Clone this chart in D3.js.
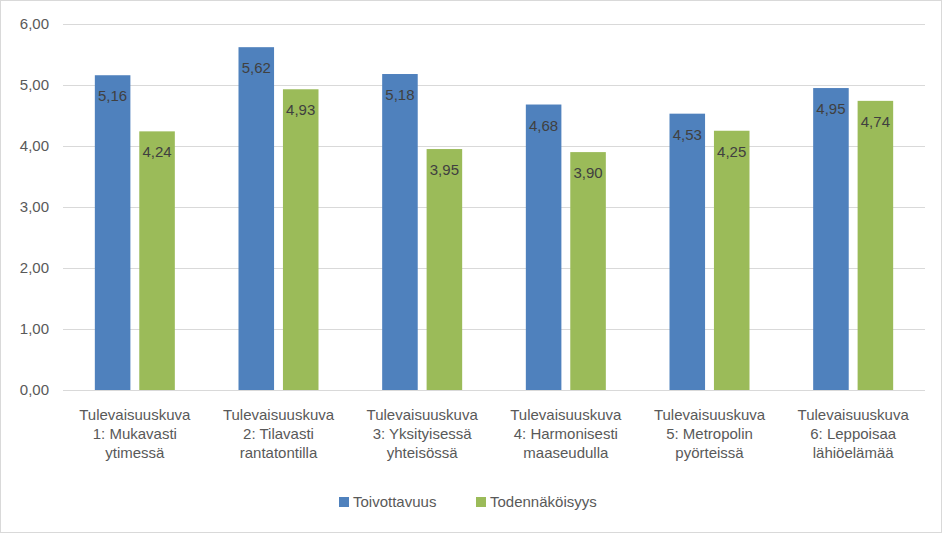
<!DOCTYPE html>
<html><head><meta charset="utf-8">
<script src="https://cdn.jsdelivr.net/npm/d3@7"></script>
<style>body{margin:0;background:#fff}text{font-family:"Liberation Sans",Arial,sans-serif}</style>
</head><body>
<script>
var categories = [["Tulevaisuuskuva","1: Mukavasti","ytimessä"],["Tulevaisuuskuva","2: Tilavasti","rantatontilla"],["Tulevaisuuskuva","3: Yksityisessä","yhteisössä"],["Tulevaisuuskuva","4: Harmonisesti","maaseudulla"],["Tulevaisuuskuva","5: Metropolin","pyörteissä"],["Tulevaisuuskuva","6: Leppoisaa","lähiöelämää"]];
var toivottavuus = [5.16,5.62,5.18,4.68,4.53,4.95];
var todennakoisyys = [4.24,4.93,3.95,3.90,4.25,4.74];
var seriesNames = ["Toivottavuus","Todennäköisyys"];
var colors = ["#4f81bd","#9bbb59"];
var yTicks = [0,1,2,3,4,5,6];

var W = 942, H = 533, plotL = 63, plotR = 925, plotT = 24, plotB = 390;
var svg = d3.select("body").append("svg").attr("width",W).attr("height",H);
svg.append("rect").attr("x",0.5).attr("y",0.5).attr("width",W-1).attr("height",H-1).attr("fill","#fff").attr("stroke","#d9d9d9");

var x = d3.scaleBand().domain(d3.range(categories.length)).range([plotL,plotR]);
var x1 = d3.scaleBand().domain([0,1]).range([0,80]).paddingInner(0.2);
var y = d3.scaleLinear().domain([0,6]).range([plotB,plotT]);
var fmt = function(v){ return d3.format(".2f")(v).replace(".",","); };

svg.selectAll(".grid").data(yTicks).enter().append("line")
  .attr("x1",plotL).attr("x2",plotR).attr("y1",d=>y(d)+0.5).attr("y2",d=>y(d)+0.5)
  .attr("stroke","#d9d9d9");
svg.selectAll(".yl").data(yTicks).enter().append("text")
  .attr("x",plotL-14).attr("y",d=>y(d)+5).attr("text-anchor","end")
  .attr("font-size",15).attr("fill","#595959").text(d=>fmt(d));

var series = [toivottavuus,todennakoisyys];
series.forEach(function(vals,s){
  var g = svg.append("g");
  g.selectAll("rect").data(vals).enter().append("rect")
    .attr("x",(d,i)=>x(i)+x.bandwidth()/2-40+x1(s)).attr("width",x1.bandwidth())
    .attr("y",d=>y(d)).attr("height",d=>plotB-y(d)).attr("fill",colors[s]);
  g.selectAll("text").data(vals).enter().append("text")
    .attr("x",(d,i)=>x(i)+x.bandwidth()/2-40+x1(s)+x1.bandwidth()/2)
    .attr("y",d=>y(d)+26).attr("text-anchor","middle").attr("font-size",15)
    .attr("fill","#404040").text(d=>fmt(d));
});

categories.forEach(function(lines,i){
  var t = svg.append("text").attr("x",x(i)+x.bandwidth()/2).attr("y",420)
    .attr("text-anchor","middle").attr("font-size",15).attr("fill","#595959");
  lines.forEach(function(l,k){ t.append("tspan").attr("x",x(i)+x.bandwidth()/2).attr("dy",k?19:0).text(l); });
});

var lx = [339,476];
seriesNames.forEach(function(n,s){
  svg.append("rect").attr("x",lx[s]).attr("y",497).attr("width",10).attr("height",10).attr("fill",colors[s]);
  svg.append("text").attr("x",lx[s]+14).attr("y",507).attr("font-size",15).attr("fill","#595959").text(n);
});
</script>
</body></html>
